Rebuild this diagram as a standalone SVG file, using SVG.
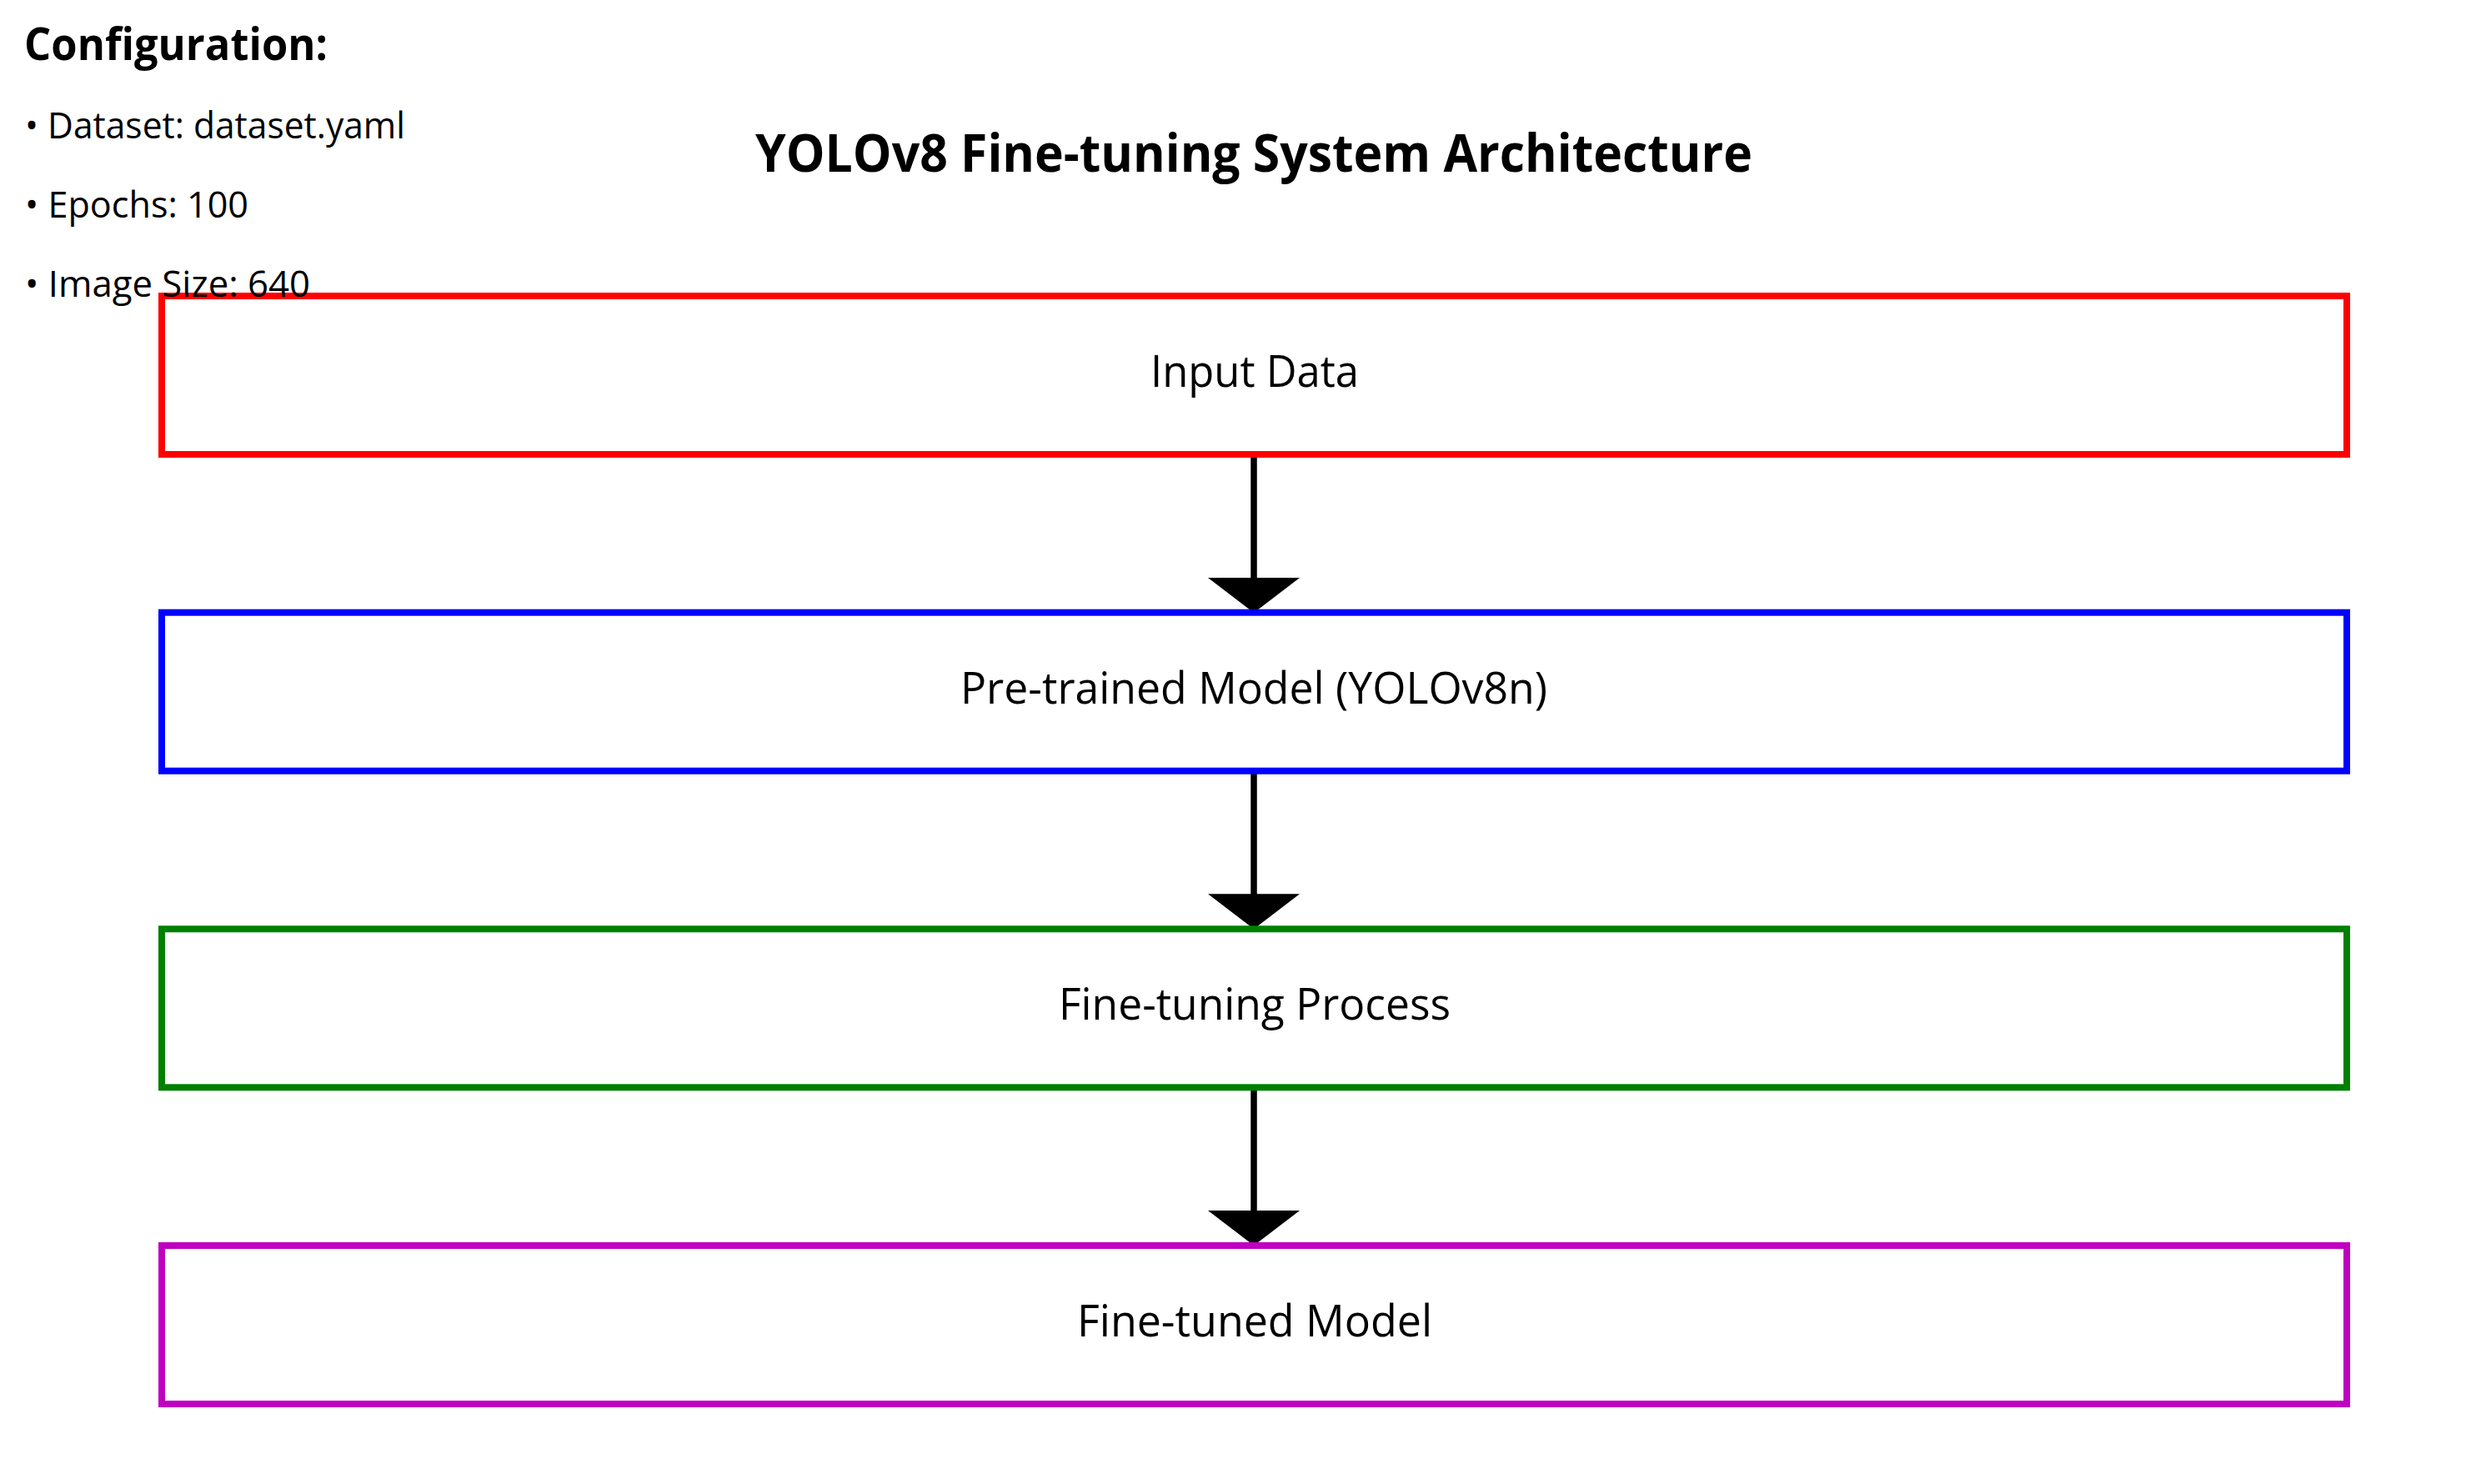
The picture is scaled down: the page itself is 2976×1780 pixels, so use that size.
<svg xmlns="http://www.w3.org/2000/svg" width="2976" height="1780" viewBox="0 0 2976 1780">
  <style>
    .bg { fill: #ffffff; }
    .box { fill: none; stroke-width: 8; }
    .label { font-family: "Open Sans", "Noto Sans", "DejaVu Sans", sans-serif; font-size: 53px; fill: #000000; text-anchor: middle; }
    .title { font-family: "Open Sans", "Noto Sans", "DejaVu Sans", sans-serif; font-size: 62px; font-weight: bold; fill: #000000; text-anchor: middle; }
    .cfghead { font-family: "Open Sans", "Noto Sans", "DejaVu Sans", sans-serif; font-size: 54px; font-weight: bold; fill: #000000; }
    .cfg { font-family: "Open Sans", "Noto Sans", "DejaVu Sans", sans-serif; font-size: 44px; fill: #000000; }
    .conn { stroke: #000000; stroke-width: 7.5; fill: none; }
  </style>
  <defs>
    <marker id="arrow" markerUnits="userSpaceOnUse" viewBox="0 -55 42 110" markerWidth="42" markerHeight="110" refX="7" refY="0" orient="auto">
      <path d="M0,-55 L42,0 L0,55 Z" fill="#000000"/>
    </marker>
  </defs>
  <rect class="bg" x="0" y="0" width="2976" height="1780"/>

  <g id="title">
    <text class="title" x="1504" y="206" textLength="1196" lengthAdjust="spacingAndGlyphs">YOLOv8 Fine-tuning System Architecture</text>
  </g>

  <g id="connectors">
    <line class="conn" x1="1504" y1="545" x2="1504" y2="700" marker-end="url(#arrow)"/>
    <line class="conn" x1="1504" y1="924.7" x2="1504" y2="1079.3" marker-end="url(#arrow)"/>
    <line class="conn" x1="1504" y1="1304.3" x2="1504" y2="1459" marker-end="url(#arrow)"/>
  </g>

  <g id="node-input">
    <rect class="box" x="194" y="355" width="2621" height="190" stroke="#ff0000"/>
    <text class="label" x="1505" y="464" textLength="250" lengthAdjust="spacingAndGlyphs">Input Data</text>
  </g>
  <g id="node-pretrained">
    <rect class="box" x="194" y="734.7" width="2621" height="190" stroke="#0000ff"/>
    <text class="label" x="1504" y="843.7" textLength="704" lengthAdjust="spacingAndGlyphs">Pre-trained Model (YOLOv8n)</text>
  </g>
  <g id="node-finetuning">
    <rect class="box" x="194" y="1114.3" width="2621" height="190" stroke="#008000"/>
    <text class="label" x="1505" y="1223.3" textLength="470" lengthAdjust="spacingAndGlyphs">Fine-tuning Process</text>
  </g>
  <g id="node-finetuned">
    <rect class="box" x="194" y="1494" width="2621" height="190" stroke="#bf00bf"/>
    <text class="label" x="1505" y="1603" textLength="426" lengthAdjust="spacingAndGlyphs">Fine-tuned Model</text>
  </g>

  <g id="configuration">
    <text class="cfghead" x="29" y="72" textLength="364" lengthAdjust="spacingAndGlyphs">Configuration:</text>
    <text class="cfg" x="30" y="166" textLength="456" lengthAdjust="spacingAndGlyphs">• Dataset: dataset.yaml</text>
    <text class="cfg" x="30" y="261" textLength="268" lengthAdjust="spacingAndGlyphs">• Epochs: 100</text>
    <text class="cfg" x="30" y="356" textLength="342" lengthAdjust="spacingAndGlyphs">• Image Size: 640</text>
  </g>
</svg>
